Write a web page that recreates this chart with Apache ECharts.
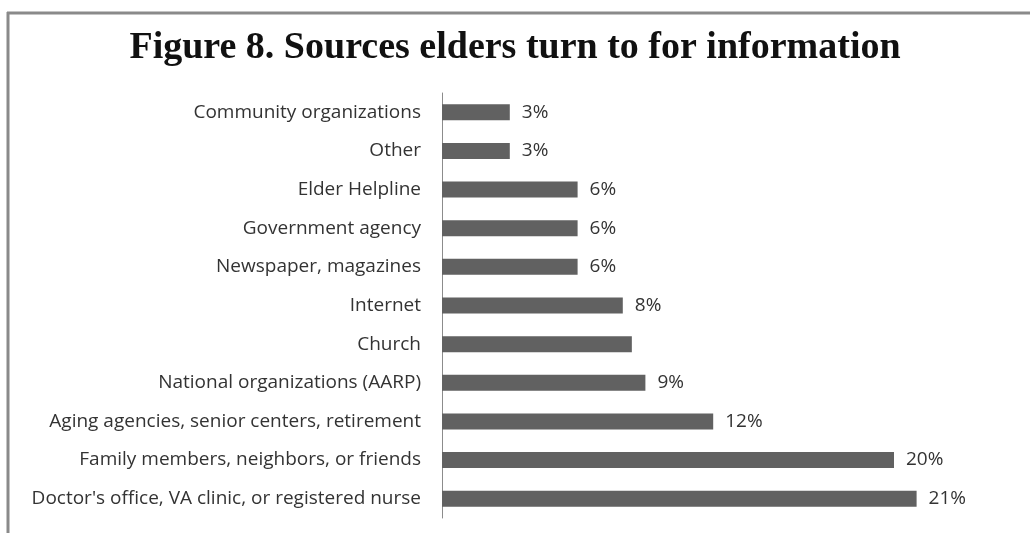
<!DOCTYPE html>
<html>
<head>
<meta charset="utf-8">
<style>
  html, body { margin: 0; padding: 0; background: #ffffff; }
  #chart { width: 1030px; height: 533px; }
</style>
<script src="https://cdn.jsdelivr.net/npm/echarts@6/dist/echarts.min.js"></script>
</head>
<body>
<div id="chart"></div>
<script>
// Sources, listed top to bottom as they appear on the chart
const categories = [
  "Community organizations",
  "Other",
  "Elder Helpline",
  "Government agency",
  "Newspaper, magazines",
  "Internet",
  "Church",
  "National organizations (AARP)",
  "Aging agencies, senior centers, retirement",
  "Family members, neighbors, or friends",
  "Doctor's office, VA clinic, or registered nurse"
];

// Share of elders using each source (percent)
const values = [3, 3, 6, 6, 6, 8, 8.4, 9, 12, 20, 21];

// Value labels printed beside each bar (Church has none)
const valueLabels = ["3%", "3%", "6%", "6%", "6%", "8%", "", "9%", "12%", "20%", "21%"];

const titleText = "Figure 8. Sources elders turn to for information";

const chart = echarts.init(document.getElementById('chart'), null, { renderer: 'canvas' });

chart.setOption({
  backgroundColor: '#ffffff',
  animation: false,
  title: {
    text: titleText,
    left: 'center',
    top: 24,
    textStyle: {
      fontFamily: '"Liberation Serif", "DejaVu Serif", serif',
      fontWeight: 'bold',
      fontSize: 38,
      color: '#111111'
    }
  },
  graphic: [
    { type: 'line', shape: { x1: 7, y1: 13, x2: 1030, y2: 13 }, style: { stroke: '#8a8a8a', lineWidth: 3 } },
    { type: 'line', shape: { x1: 8, y1: 12, x2: 8, y2: 533 }, style: { stroke: '#8a8a8a', lineWidth: 3 } }
  ],
  grid: { left: 442, right: 23, top: 93, bottom: 15, containLabel: false },
  xAxis: {
    type: 'value',
    min: 0,
    max: 25,
    show: false
  },
  yAxis: {
    type: 'category',
    data: categories,
    inverse: true,
    axisLine: { show: true, lineStyle: { color: '#8c8c8c', width: 1 } },
    axisTick: { show: false },
    axisLabel: {
      margin: 21,
      fontFamily: '"Open Sans", "Noto Sans", sans-serif',
      fontSize: 19,
      color: '#333333'
    }
  },
  series: [{
    type: 'bar',
    data: values,
    barWidth: 16,
    itemStyle: { color: '#616161' },
    label: {
      show: true,
      position: 'right',
      distance: 12,
      fontFamily: '"Open Sans", "Noto Sans", sans-serif',
      fontSize: 19,
      color: '#333333',
      formatter: (p) => valueLabels[p.dataIndex]
    }
  }]
});
</script>
</body>
</html>
